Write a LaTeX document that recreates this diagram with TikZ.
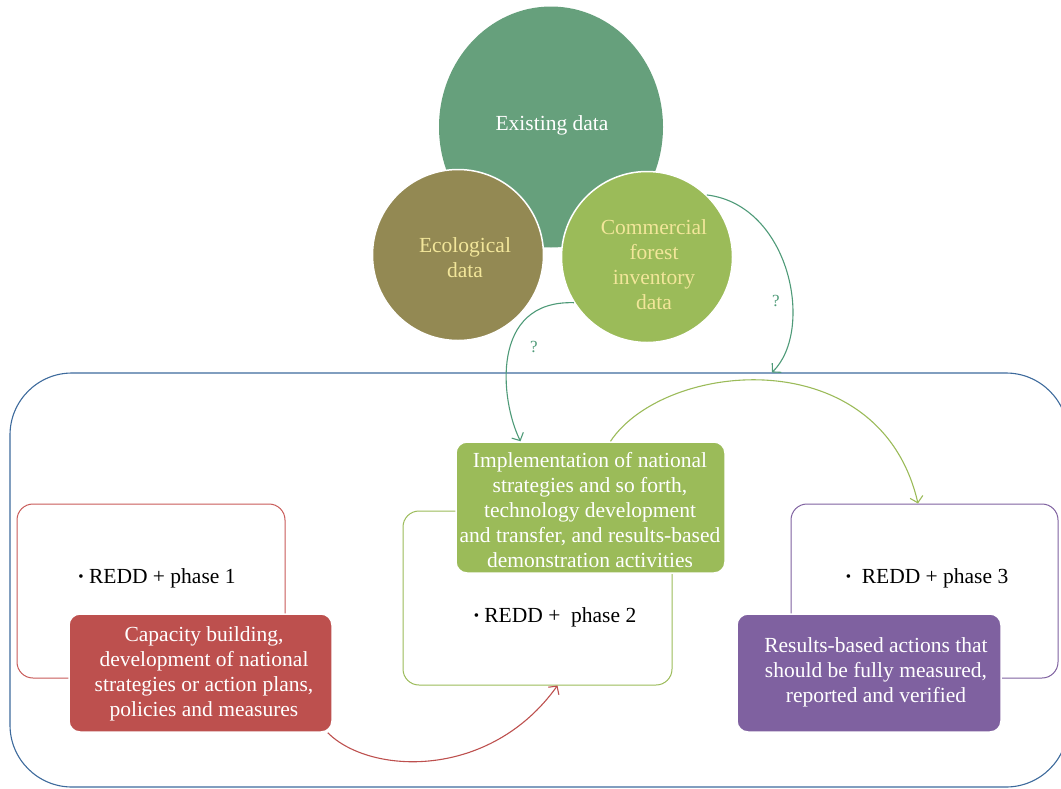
\documentclass[tikz,border=0pt]{standalone}
\usepackage{fontspec}
\usepackage{graphicx}
\setmainfont{Liberation Serif}
\usetikzlibrary{arrows.meta,shapes.geometric}
\definecolor{outerblue}{HTML}{3D6A9C}
\definecolor{existc}{HTML}{66A07C}
\definecolor{ecoc}{HTML}{938953}
\definecolor{greenc}{HTML}{9BBB59}
\definecolor{redc}{HTML}{BD504E}
\definecolor{purplec}{HTML}{7F61A0}
\definecolor{tealc}{HTML}{4E9A78}
\definecolor{paletext}{HTML}{F2E69A}
\definecolor{redline}{HTML}{C85A58}
\newcommand{\smallbul}{\raisebox{1.5pt}{\scalebox{0.7}{\textbullet}}}
\tikzset{
  txt/.style={font=\fontsize{21.5}{25}\selectfont, align=center, inner sep=0pt},
  outline/.style={draw, line width=1pt, rounded corners=16pt, fill=white},
  filled/.style={draw=white, line width=1.5pt, rounded corners=11pt},
  conn/.style={line width=1.1pt, -{Straight Barb[length=6pt,width=13pt,line width=1.1pt]}},
}
\begin{document}
\begin{tikzpicture}[x=1pt,y=-1pt]
\useasboundingbox (0,0) rectangle (1061,788);
% outer frame
\node[draw=outerblue, line width=1.1pt, rounded corners=62pt, minimum width=1058pt, minimum height=414pt, inner sep=0pt] (frame) at (539,580) {};
% circles
\node[ellipse, fill=existc, minimum width=224pt, minimum height=241pt, inner sep=0pt] (exist) at (551,127) {};
\node[txt, text=white] (existt) at (552,125) {Existing data};
\node[circle, fill=ecoc, draw=white, line width=1.5pt, minimum size=171pt, inner sep=0pt] (eco) at (458,255) {};
\node[txt, text=paletext] (ecot) at (465,258) {Ecological\\data};
\node[circle, fill=greenc, draw=white, line width=1.5pt, minimum size=171pt, inner sep=0pt] (comm) at (647,257) {};
\node[txt, text=paletext] (commt) at (654,265) {Commercial\\forest\\inventory\\data};
% phase outline boxes
\node[outline, draw=redline, minimum width=268pt, minimum height=174pt, inner sep=0pt] (p1) at (151,591) {};
\node[txt] (p1t) at (157,578) {\smallbul\ REDD + phase 1};
\node[outline, draw=greenc, minimum width=269pt, minimum height=174pt, inner sep=0pt] (p2) at (537.5,598) {};
\node[txt] (p2t) at (555,617) {\smallbul\ REDD +\ \ phase 2};
\node[outline, draw=purplec, minimum width=267pt, minimum height=174pt, inner sep=0pt] (p3) at (924.5,591) {};
\node[txt] (p3t) at (927,578) {\smallbul\ \ REDD + phase 3};
% filled boxes
\node[filled, fill=redc, minimum width=263pt, minimum height=118pt, inner sep=0pt] (rb) at (200.5,673) {};
\node[txt, text=white] (rbt) at (204,674) {Capacity building,\\development of national\\strategies or action plans,\\policies and measures};
\node[filled, fill=greenc, minimum width=269pt, minimum height=131pt, inner sep=0pt] (gb) at (590.5,507.5) {};
\node[txt, text=white] (gbt) at (590,510) {Implementation of national\\strategies and so forth,\\technology development\\and transfer, and results-based\\demonstration activities};
\node[filled, fill=purplec, minimum width=264pt, minimum height=118pt, inner sep=0pt] (pb) at (869,673) {};
\node[txt, text=white] (pbt) at (876,672) {Results-based actions that\\should be fully measured,\\reported and verified};
% connectors
\draw[conn, redc] ([xshift=-5pt]rb.south east) .. controls (370,775) and (490,780) .. ([xshift=20pt]p2.south);
\draw[conn, greenc] ([xshift=20pt]gb.north) .. controls (665,360) and (880,340) .. ([xshift=-6.5pt]p3.north);
\draw[conn, tealc] (comm.212) .. controls (490,300) and (500,400) .. ([xshift=-70pt]gb.north);
\draw[conn, tealc] (comm.46) .. controls (790,205) and (815,330) .. ([xshift=233pt]frame.north);
\node[txt, text=tealc, font=\fontsize{17}{18}\selectfont] (q1) at (534,347) {?};
\node[txt, text=tealc, font=\fontsize{17}{18}\selectfont] (q2) at (776,301) {?};
\end{tikzpicture}
\end{document}
